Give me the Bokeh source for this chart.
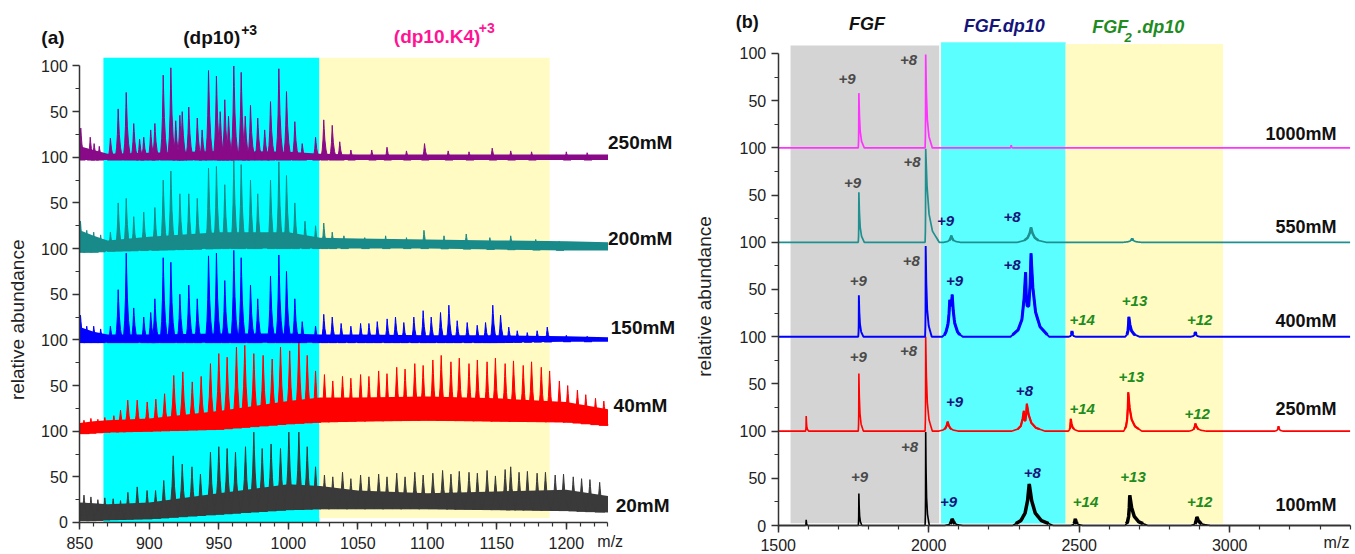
import numpy as np
from bokeh.plotting import figure
from bokeh.layouts import row
from bokeh.models import FixedTicker, Range1d
from bokeh.core.properties import value
from bokeh.embed import file_html
from bokeh.resources import INLINE

FONT = "Liberation Sans"

# ---------------- shared ----------------
Y_TICKS = [0, 50, 100, 150, 200, 250, 300, 350, 400, 450, 500]
Y_TICK_LABELS = ["0", "50", "100", "50", "100", "50", "100", "50", "100", "50", "100"]
Y_MINOR = [25, 75, 125, 175, 225, 275, 325, 375, 425, 475]

# peak shape templates (fraction of half-width, fraction of height)
SPK_OFF = [-1, -0.5, -0.25, -0.1, 0, 0.1, 0.25, 0.5, 1]
SPK_FRAC = [0, 0.12, 0.3, 0.6, 1, 0.6, 0.3, 0.12, 0]
A_SPK_FRAC = [0, 0.25, 0.5, 0.78, 1, 0.78, 0.5, 0.25, 0]

# ---------------- panel (a) data ----------------
A_X_TICKS = [850, 900, 950, 1000, 1050, 1100, 1150, 1200]
A_REGION_LO = [867, 1022.4]
A_REGION_HI = [1022.4, 1188]
A_CONC = ["250mM", "200mM", "150mM", "40mM", "20mM"]
A_ENV_X = [850, 860, 870, 900, 950, 1000, 1023, 1050, 1100, 1150, 1200, 1230]

A250_LO = [-3, -3, -3, -3, -3, -3, -3, -3, -3, -3, -3, -3]
A250_HI = [12, 8, 4, 5, 7, 6, 4, 3, 3, 3, 3, 3]
A250_PX = [850.7, 857.5, 860.3, 864, 872, 877.6, 883.4, 888.8, 893, 896, 901, 904, 910, 915.5, 919, 922,
           923.7, 928.4, 934.5, 938, 942.6, 948.3, 951, 954.3, 957, 960.8, 966.1, 969, 972.8, 978, 983,
           987.2, 993.2, 998.7, 1004.7, 1010, 1019.6, 1025.5, 1031.6, 1037, 1045, 1060, 1071, 1085, 1098,
           1115, 1130, 1146.7, 1160, 1175, 1200, 1215]
A250_PH = [32, 22, 15, 12, 21, 53, 71, 37, 20, 22, 30, 37, 90, 98, 40, 46, 50, 55, 43, 30, 95, 89, 50, 63,
           45, 100, 93, 45, 57, 43, 30, 61, 97, 72, 39, 15, 22, 41, 35, 17, 8, 8, 11, 7, 15, 7, 6, 10, 7,
           6, 6, 5]

A200_LO = [-4, -4, -3, -2, 0, 0, 0, 0, 0, -1, -2, -2]
A200_HI = [20, 14, 9, 13, 18, 18, 12, 11, 10, 9, 8, 7]
A200_PX = [850.5, 855, 860, 865, 872, 877.6, 883.4, 888.8, 896, 904, 910, 915.5, 922, 928.4, 934.5, 942.6,
           948.3, 954.3, 960.8, 966.1, 972.8, 978, 987.2, 993.2, 998.7, 1004.7, 1012, 1019.6, 1025.5,
           1031.6, 1040, 1055, 1070, 1085, 1097.6, 1112, 1128, 1145, 1160, 1178, 1195]
A200_PH = [30, 20, 18, 15, 18, 50, 55, 35, 40, 45, 75, 85, 60, 60, 55, 88, 90, 70, 98, 92, 75, 60, 75, 95,
           80, 50, 30, 25, 28, 18, 14, 12, 14, 12, 20, 14, 16, 12, 14, 10, 8]

A150_LO = [-3, -3, -3, -3, -3, -3, -3, -3, -3, -3, -2, -2]
A150_HI = [14, 9, 6, 6, 7, 7, 6, 6, 5, 5, 4, 3]
A150_PX = [850.5, 855, 860, 865, 872, 877.6, 883.4, 888.8, 896, 901, 904, 910, 915.5, 922, 928.4, 934.5,
           942.6, 948.3, 954.3, 960.8, 966.1, 972.8, 978, 987.2, 993.2, 998.7, 1004.7, 1010, 1019.6, 1025.5,
           1031.6, 1038, 1045, 1052, 1058, 1064, 1071.1, 1077.1, 1083.1, 1090.3, 1097, 1102.8, 1109.5,
           1115.5, 1121.5, 1128.7, 1135.9, 1141.9, 1147.1, 1152.7, 1158.6, 1164.7, 1171.9, 1179, 1186.3,
           1200, 1215]
A150_PH = [27, 15, 15, 12, 15, 55, 95, 35, 25, 30, 45, 90, 85, 50, 60, 45, 92, 95, 65, 98, 90, 60, 45, 70,
           93, 75, 45, 20, 15, 28, 25, 18, 15, 18, 18, 20, 23, 25, 19, 25, 32, 25, 30, 38, 21, 19, 16, 19,
           38, 27, 14, 10, 8, 10, 14, 5, 4]

A40_LO = [-3, -2, -1, 0, 2, 8, 10, 11, 12, 11, 10, 6]
A40_HI = [9, 11, 12, 14, 22, 33, 37, 37, 38, 36, 32, 24]
A40_PX = [853, 858, 863, 868, 874.5, 879.3, 884.5, 891.3, 898.5, 904.7, 911, 917.6, 924.1, 930.9, 937.3,
          944, 950, 956, 962.7, 968.7, 975.2, 981.9, 988.4, 994.4, 1001, 1007.6, 1013.6, 1019.6, 1026, 1032,
          1039, 1045, 1052, 1058, 1065, 1071, 1078, 1084, 1091, 1097, 1104, 1110, 1117, 1123, 1130, 1136,
          1143, 1149, 1156, 1162, 1169, 1175, 1182, 1188, 1195, 1201, 1208, 1214, 1221, 1227]
A40_PH = [12, 14, 13, 15, 17, 23, 34, 34, 32, 35, 41, 61, 65, 54, 60, 74, 85, 81, 92, 94, 85, 83, 79, 92,
          88, 99, 83, 66, 62, 55, 60, 58, 62, 60, 66, 63, 70, 68, 74, 72, 78, 83, 76, 80, 74, 78, 76, 80,
          74, 77, 72, 76, 70, 66, 55, 50, 45, 40, 36, 33]

A20_LO = [2, 2, 3, 4, 9, 14, 15, 15, 15, 14, 13, 11]
A20_HI = [22, 21, 20, 22, 32, 42, 40, 35, 32, 34, 36, 29]
A20_PX = [853, 858, 863, 868, 874, 879.3, 884.6, 891.3, 898.4, 904.5, 910.4, 917.2, 923.7, 930.7, 936.8,
          944, 950, 956, 962, 969.2, 975.2, 981.2, 987.6, 994.4, 1000.4, 1007.6, 1013.6, 1019.6, 1026, 1032,
          1039, 1045, 1052, 1058, 1065, 1071, 1078, 1084, 1091, 1097, 1104, 1111, 1117, 1123, 1130, 1136,
          1143, 1149, 1156, 1160, 1166, 1172, 1179, 1185, 1192, 1198, 1205, 1211, 1217, 1224]
A20_PH = [30, 28, 25, 27, 26, 24, 33, 39, 35, 35, 46, 73, 64, 61, 53, 77, 83, 81, 77, 83, 99, 81, 86, 81,
          99, 99, 83, 61, 52, 50, 55, 48, 52, 50, 53, 50, 54, 50, 55, 52, 54, 57, 53, 56, 55, 54, 57, 51,
          58, 61, 55, 56, 54, 55, 52, 53, 50, 48, 47, 44]

# ---------------- panel (b) data ----------------
B_X_TICKS = [1500, 2000, 2500, 3000]
B_REGION_LO = [1541, 2041, 2455]
B_REGION_HI = [2035, 2455, 2978]
B_CONC = ["1000mM", "550mM", "400mM", "250mM", "100mM"]

B1000_PX = [1768, 1990, 2274]
B1000_PH = [58, 99, 3]
B1000_WL = [2, 2, 4]
B1000_WR = [18, 22, 6]

B550_PX = [1768, 1990, 2075, 2340, 2676]
B550_PH = [53, 99, 7, 16, 4]
B550_WL = [2, 2, 25, 45, 30]
B550_WR = [18, 45, 30, 50, 30]

B400_PX = [1768, 1990, 2070, 2078, 2322, 2340, 2476, 2665, 2886]
B400_PH = [44, 96, 30, 36, 60, 87, 6, 21, 5]
B400_WL = [2, 2, 25, 25, 50, 30, 10, 12, 15]
B400_WR = [15, 20, 30, 35, 20, 60, 12, 35, 15]

B250_PX = [1593, 1768, 1990, 2063, 2316, 2326, 2472, 2663, 2886, 3162]
B250_PH = [16, 61, 100, 10, 18, 29, 13, 41, 8, 5]
B250_WL = [2, 2, 2, 30, 40, 20, 8, 15, 20, 12]
B250_WR = [8, 15, 22, 35, 10, 60, 25, 45, 35, 15]

B100_PX = [1593, 1768, 1990, 2078, 2334, 2487, 2668, 2891]
B100_PH = [6, 34, 99, 7, 44, 7, 32, 9]
B100_WL = [3, 2, 2, 25, 55, 15, 15, 20]
B100_WR = [6, 10, 12, 35, 80, 25, 60, 45]

# peak annotations (text, m/z, stacked y)
B_FGF_TXT = ["+9", "+8", "+9", "+8", "+9", "+8", "+9", "+8", "+9", "+8"]
B_FGF_X = [1729, 1933, 1747, 1945, 1766, 1942, 1766, 1933, 1770, 1936]
B_FGF_Y = [473.5, 492.6, 363, 385, 258.5, 280.7, 179, 184.6, 51.2, 82.9]
B_DP_TXT = ["+9", "+8", "+9", "+8", "+9", "+8", "+9", "+8"]
B_DP_X = [2056, 2277, 2086, 2277, 2086, 2318, 2066, 2344]
B_DP_Y = [322.4, 327.3, 258.5, 276.2, 130.6, 143, 24.7, 55.4]
B_DP2_TXT = ["+14", "+13", "+12", "+14", "+13", "+12", "+14", "+13", "+12"]
B_DP2_X = [2510, 2684, 2900, 2510, 2673, 2892, 2521, 2679, 2900]
B_DP2_Y = [217.2, 237.3, 218.2, 123.9, 156.8, 118.6, 24.7, 51.2, 24.7]

# ---------------- layout / style ----------------
H = 554
STACK = [400, 300, 200, 100, 0]
A_COLORS = ["#880A88", "#188A8A", "#0000FF", "#FF0000", "#3A3A3A"]
B_COLORS = ["#FF33FF", "#1F8F8F", "#0000FF", "#FF0000", "#000000"]
AXIS_COLOR = "#333333"


def make_fig(width, xr, yr):
    p = figure(width=width, height=H, x_range=Range1d(*xr), y_range=Range1d(*yr),
               output_backend="svg", toolbar_location=None, min_border=0)
    p.outline_line_color = None
    p.xgrid.visible = False
    p.ygrid.visible = False
    p.background_fill_color = "white"
    p.border_fill_color = "white"
    return p


def style_axes(p, xticks, xminor, xbounds, yloc, xstandoff):
    p.xaxis.fixed_location = 0
    p.yaxis.fixed_location = yloc
    p.xaxis.bounds = xbounds
    p.yaxis.bounds = (0, 500)
    p.xaxis.ticker = FixedTicker(ticks=xticks, minor_ticks=xminor)
    p.yaxis.ticker = FixedTicker(ticks=Y_TICKS, minor_ticks=Y_MINOR)
    p.yaxis.major_label_overrides = {t: l for t, l in zip(Y_TICKS, Y_TICK_LABELS)}
    for ax in (p.xaxis, p.yaxis):
        ax.axis_line_color = AXIS_COLOR
        ax.axis_line_width = 1.5
        ax.major_tick_line_color = AXIS_COLOR
        ax.major_tick_line_width = 1.5
        ax.minor_tick_line_color = AXIS_COLOR
        ax.minor_tick_line_width = 1.2
        ax.major_tick_in = 0
        ax.major_tick_out = 7
        ax.minor_tick_in = 0
        ax.minor_tick_out = 4
        ax.major_label_text_font = FONT
        ax.major_label_text_font_size = "16px"
        ax.major_label_text_color = "#222222"
    p.xaxis.major_label_standoff = xstandoff
    p.yaxis.major_label_standoff = 5


def txt(p, xs, ys, texts, size, color="#111111", style="bold", align="center", angle=0.0):
    p.text(x=xs, y=ys, text=texts, text_font=value(FONT), text_font_size=size,
           text_font_style=style, text_color=color, text_align=align,
           text_baseline="middle", angle=angle)


# ================= panel (a) =================
pa = make_fig(678, (792.95, 1280.72), (-35.05, 571.74))
pa.quad(left=A_REGION_LO[:1], right=A_REGION_HI[:1], bottom=[0], top=[509],
        fill_color="#00FFFF", line_color=None)
pa.quad(left=A_REGION_LO[1:], right=A_REGION_HI[1:], bottom=[5], top=[509],
        fill_color="#FFFBC2", line_color=None)

a_traces = [(A250_LO, A250_HI, A250_PX, A250_PH), (A200_LO, A200_HI, A200_PX, A200_PH),
            (A150_LO, A150_HI, A150_PX, A150_PH), (A40_LO, A40_HI, A40_PX, A40_PH),
            (A20_LO, A20_HI, A20_PX, A20_PH)]
a_wl = [2.2, 2.2, 2.2, 3.4, 3.4]
a_wr = [3.3, 3.3, 3.3, 3.8, 3.8]
for i in [4, 3, 2, 1, 0]:
    lo, hi, px, ph = a_traces[i]
    off = STACK[i]
    c = A_COLORS[i]
    pa.varea(x=A_ENV_X, y1=[off + v for v in lo], y2=[off + v for v in hi], fill_color=c)
    xs, ys = [], []
    for x, h in zip(px, ph):
        b = float(np.interp(x, A_ENV_X, lo))
        px_pts = [min(max(x + (o * a_wl[i] if o < 0 else o * a_wr[i]), 850), 1230) for o in SPK_OFF]
        py_pts = [off + b + f * (h - b) for f in A_SPK_FRAC]
        xs.append(px_pts)
        ys.append(py_pts)
    pa.patches(xs=xs, ys=ys, fill_color=c, line_color=c, line_width=1.0)

style_axes(pa, A_X_TICKS, list(range(850, 1231, 10)), (850, 1230), 850, 8)

txt(pa, [830.7], [531.2], ["(a)"], "19px")
txt(pa, [924.4], [531.0], ["(dp10)"], "19px", align="left")
txt(pa, [966.1], [539.4], ["+3"], "14px", align="left")
txt(pa, [1075.9], [532.0], ["(dp10.K4)"], "19px", color="#FF1493", align="left")
txt(pa, [1137.0], [541.7], ["+3"], "14px", color="#FF1493", align="left")
txt(pa, [1230, 1230, 1232, 1234, 1235.5], [416.5, 311, 213.6, 128.1, 18.6], A_CONC, "19px", align="left")
txt(pa, [805.5], [222.0], ["relative abundance"], "19px", color="#222222", style="normal",
    angle=np.pi / 2)
txt(pa, [1231.6], [-21.0], ["m/z"], "16px", color="#222222", style="normal")

# ================= panel (b) =================
pb = make_fig(677, (1168.77, 3417.94), (-30.72, 556.14))
pb.quad(left=B_REGION_LO[:1], right=B_REGION_HI[:1], bottom=[2.5], top=[508.5],
        fill_color="#D4D4D4", line_color=None)
pb.quad(left=B_REGION_LO[1:2], right=B_REGION_HI[1:2], bottom=[2], top=[512],
        fill_color="#5CFFFF", line_color=None)
pb.quad(left=B_REGION_LO[2:], right=B_REGION_HI[2:], bottom=[2], top=[510],
        fill_color="#FFFBC2", line_color=None)

grid = np.arange(1500, 3400.01, 0.5)


def profile(px, ph, wl, wr):
    y = np.zeros_like(grid)
    for x, h, l, r in zip(px, ph, wl, wr):
        xs = [x + (o * l if o < 0 else o * r) for o in SPK_OFF]
        ys = [f * h for f in SPK_FRAC]
        y += np.interp(grid, xs, ys, left=0, right=0)
    return y


b_traces = [(B1000_PX, B1000_PH, B1000_WL, B1000_WR), (B550_PX, B550_PH, B550_WL, B550_WR),
            (B400_PX, B400_PH, B400_WL, B400_WR), (B250_PX, B250_PH, B250_WL, B250_WR),
            (B100_PX, B100_PH, B100_WL, B100_WR)]
b_lw = [1.7, 1.7, 1.9, 1.6, 1.6]
b_thick = [0, 2.5, 3.0, 2.2, 3.5]
for i in [4, 3, 2, 1, 0]:
    y = profile(*b_traces[i])
    off = STACK[i]
    pb.line(grid, off + y, line_color=B_COLORS[i], line_width=b_lw[i])
    if b_thick[i] > 0:
        mask = (y > 2) & (grid > 2030)
        yt = np.where(mask, off + y, np.nan)
        pb.line(grid, yt, line_color=B_COLORS[i], line_width=b_thick[i])

style_axes(pb, B_X_TICKS, list(range(1500, 3401, 100)), (1500, 3400), 1500, 6)

txt(pb, [1397], [533.2], ["(b)"], "18px")
txt(pb, [1795], [531.5], ["FGF"], "18px", style="bold italic")
txt(pb, [2251], [528.8], ["FGF.dp10"], "18px", color="#14147A", style="bold italic")
txt(pb, [2543], [528.0], ["FGF"], "18px", color="#1E8C1E", style="bold italic", align="left")
txt(pb, [2650.5], [517.3], ["2"], "13px", color="#1E8C1E", style="bold italic", align="left")
txt(pb, [2692.7], [528.0], [".dp10"], "18px", color="#1E8C1E", style="bold italic", align="left")
txt(pb, B_FGF_X, B_FGF_Y, B_FGF_TXT, "15px", color="#4A4A4A", style="bold italic")
txt(pb, B_DP_X, B_DP_Y, B_DP_TXT, "15px", color="#14147A", style="bold italic")
txt(pb, B_DP2_X, B_DP2_Y, B_DP2_TXT, "15px", color="#1E8C1E", style="bold italic")
txt(pb, [3355] * 5, [414.2, 316, 216.4, 122.9, 22.2], B_CONC, "18px", align="right")
txt(pb, [1256.8], [242.6], ["relative abundance"], "19px", color="#222222", style="normal",
    angle=np.pi / 2)
txt(pb, [3354.8], [-18.0], ["m/z"], "16px", color="#222222", style="normal")

layout = row(pa, pb)
open("out.html", "w").write(file_html(layout, INLINE))
